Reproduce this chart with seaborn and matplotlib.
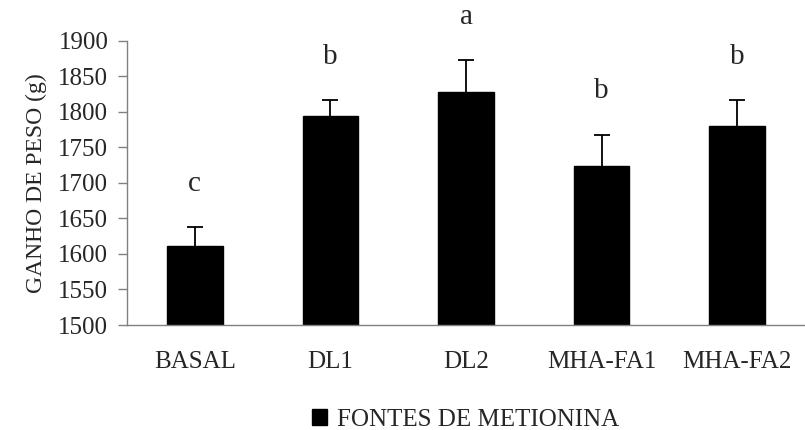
import matplotlib
matplotlib.use("Agg")
import matplotlib.pyplot as plt
import seaborn as sns
import pandas as pd
import numpy as np
from matplotlib.patches import Patch

categories = ["BASAL", "DL1", "DL2", "MHA-FA1", "MHA-FA2"]
means = [1611, 1794, 1828, 1724, 1780]
errors = [27, 23, 45, 44, 37]
letters = ["c", "b", "a", "b", "b"]
yticks = [1500, 1550, 1600, 1650, 1700, 1750, 1800, 1850, 1900]
ylabel = "GANHO DE PESO (g)"
legend_label = "FONTES DE METIONINA"

sns.set_style("white")
plt.rcParams["font.family"] = ["Liberation Serif", "DejaVu Serif"]

df = pd.DataFrame({"cat": categories, "val": means})

fig = plt.figure(figsize=(8.05, 4.30), dpi=100)
ax = fig.add_axes([127 / 805, 1 - 325 / 430, 678 / 805, (325 - 40.7) / 430])

sns.barplot(data=df, x="cat", y="val", color="black", width=0.41,
            errorbar=None, ax=ax, saturation=1)
for p in ax.patches:
    p.set_edgecolor("black")

x = np.arange(len(categories))
eb = ax.errorbar(x, means, yerr=[np.zeros(len(errors)), errors], fmt="none",
                 ecolor="black", elinewidth=1.3, capsize=6, capthick=1.3)
caps = eb[1]
if len(caps) >= 2:
    caps[0].set_visible(False)

for i, (m, e, l) in enumerate(zip(means, errors, letters)):
    ax.annotate(l, (i, m + e), xytext=(0, 31), textcoords="offset points",
                ha="center", va="center", fontsize=21, annotation_clip=False)

ax.set_ylim(1500, 1900)
ax.set_xlim(-0.5, len(categories) - 0.5)
ax.set_yticks(yticks)
ax.set_yticklabels([str(v) for v in yticks], fontsize=18)
ax.set_xticks(x)
ax.set_xticklabels(categories, fontsize=18)
ax.set_xticks(np.arange(-0.5, len(categories), 1.0), minor=True)
ax.tick_params(axis="x", which="major", length=0, pad=19)
ax.tick_params(axis="x", which="minor", length=6, width=1, color="#808080", direction="out")
ax.tick_params(axis="y", which="major", length=6.5, width=1, color="#808080", direction="out", pad=7, left=True)
ax.set_xlabel("")
ax.set_ylabel(ylabel, fontsize=17, labelpad=8)

for s in ["top", "right"]:
    ax.spines[s].set_visible(False)
for s in ["left", "bottom"]:
    ax.spines[s].set_color("#808080")
    ax.spines[s].set_linewidth(1)

fig.legend(handles=[Patch(facecolor="black", edgecolor="black")], labels=[legend_label],
           loc="center", bbox_to_anchor=(466 / 805, 1 - 420 / 430), frameon=False,
           fontsize=18, handlelength=0.6, handleheight=0.6, handletextpad=0.4)

fig.savefig("out.png", dpi=100)
